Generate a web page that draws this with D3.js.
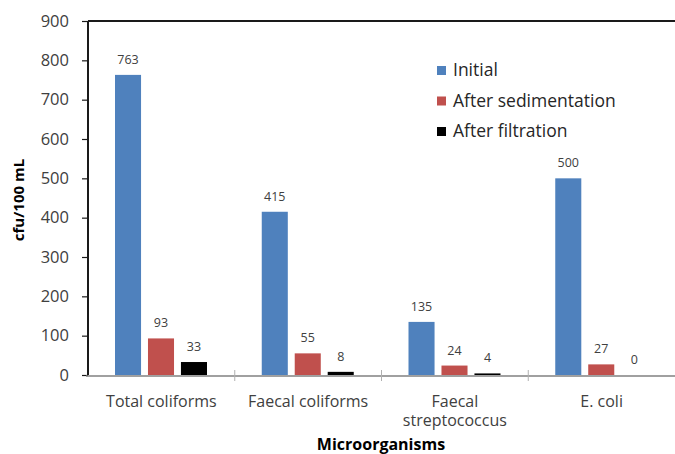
<!DOCTYPE html>
<html>
<head>
<meta charset="utf-8">
<script src="https://cdn.jsdelivr.net/npm/d3@7"></script>
<style>
  html, body { margin: 0; padding: 0; background: #fff; }
  svg { display: block; font-family: "Open Sans", "Noto Sans", sans-serif; }
</style>
</head>
<body>
<svg id="chart" width="675" height="454"></svg>
<script>
// Microorganism counts (cfu/100 mL) per treatment stage
const categories = [["Total coliforms"], ["Faecal coliforms"], ["Faecal", "streptococcus"], ["E. coli"]];
const categoryKeys = ["Total coliforms", "Faecal coliforms", "Faecal streptococcus", "E. coli"];
const seriesNames = ["Initial", "After sedimentation", "After filtration"];
const initialValues = [763, 415, 135, 500];
const sedimentationValues = [93, 55, 24, 27];
const filtrationValues = [33, 8, 4, 0];
const yTicks = [0, 100, 200, 300, 400, 500, 600, 700, 800, 900];
const seriesColors = ["#4F81BD", "#C0504D", "#000000"];

const seriesValues = [initialValues, sedimentationValues, filtrationValues];

const svg = d3.select("#chart");
const plotLeft = 88, plotRight = 675, plotTop = 21, plotBottom = 375;

const x = d3.scaleBand(categoryKeys, [plotLeft, plotRight]).paddingInner(0).paddingOuter(0);
const xInner = d3.scaleBand(seriesNames, [27, 119]).paddingInner(0.21);
const y = d3.scaleLinear([0, 900], [plotBottom, plotTop]);

// Top border of the plot area
svg.append("line")
  .attr("x1", plotLeft).attr("x2", plotRight)
  .attr("y1", plotTop).attr("y2", plotTop)
  .attr("stroke", "#1a1a1a").attr("stroke-width", 2);

// Bars and value labels
seriesNames.forEach((name, si) => {
  const g = svg.append("g");
  categoryKeys.forEach((cat, ci) => {
    const v = seriesValues[si][ci];
    const bx = x(cat) + xInner(name);
    g.append("rect")
      .attr("x", bx)
      .attr("y", y(v))
      .attr("width", xInner.bandwidth())
      .attr("height", y(0) - y(v))
      .attr("fill", seriesColors[si]);
    g.append("text")
      .attr("x", bx + xInner.bandwidth() / 2)
      .attr("y", y(v) - 11)
      .attr("text-anchor", "middle")
      .attr("font-size", 12.5)
      .attr("fill", "#404040")
      .text(v);
  });
});

// Y axis
const yAxis = d3.axisLeft(y).tickValues(yTicks).tickSize(6).tickPadding(13).tickSizeOuter(0);
const yg = svg.append("g").attr("transform", `translate(${plotLeft},0)`).call(yAxis);
yg.select(".domain").attr("stroke", "#1a1a1a").attr("stroke-width", 2)
  .attr("d", `M0,${plotTop}V${plotBottom}`);
yg.selectAll(".tick line").attr("stroke", "#1a1a1a").attr("stroke-width", 1.2);
yg.selectAll(".tick text")
  .attr("font-size", 16.5).attr("fill", "#404040")
  .attr("font-family", "'Open Sans', sans-serif");

// X axis with category separators
const xg = svg.append("g").attr("transform", `translate(0,${plotBottom + 1})`);
xg.append("line")
  .attr("x1", plotLeft - 2).attr("x2", plotRight)
  .attr("y1", 0).attr("y2", 0)
  .attr("stroke", "#808080").attr("stroke-width", 1.5);
const boundaries = categoryKeys.map(c => x(c));
xg.selectAll("line.sep").data(boundaries.slice(1)).join("line")
  .attr("class", "sep")
  .attr("x1", d => d).attr("x2", d => d)
  .attr("y1", -6).attr("y2", 5)
  .attr("stroke", "#b0b0b0").attr("stroke-width", 1);

// Category labels, one text element per line
categories.forEach((lines, ci) => {
  const cx = x(categoryKeys[ci]) + x.bandwidth() / 2;
  lines.forEach((ln, li) => {
    svg.append("text")
      .attr("x", cx)
      .attr("y", 407 + li * 19)
      .attr("text-anchor", "middle")
      .attr("font-size", 16)
      .attr("fill", "#404040")
      .text(ln);
  });
});

// Axis titles
svg.append("text")
  .attr("transform", `translate(24,200) rotate(-90)`)
  .attr("text-anchor", "middle")
  .attr("font-size", 15).attr("font-weight", "bold")
  .attr("fill", "#000")
  .text("cfu/100 mL");

svg.append("text")
  .attr("x", 381).attr("y", 450)
  .attr("text-anchor", "middle")
  .attr("font-size", 16).attr("font-weight", "bold")
  .attr("fill", "#000")
  .text("Microorganisms");

// Legend
const legend = svg.append("g");
seriesNames.forEach((name, i) => {
  const by = 76 + i * 30.5;
  legend.append("rect")
    .attr("x", 437).attr("y", by - 10)
    .attr("width", 9).attr("height", 9)
    .attr("fill", seriesColors[i]);
  legend.append("text")
    .attr("x", 453).attr("y", by)
    .attr("font-size", 17.5).attr("fill", "#262626")
    .text(name);
});
</script>
</body>
</html>
